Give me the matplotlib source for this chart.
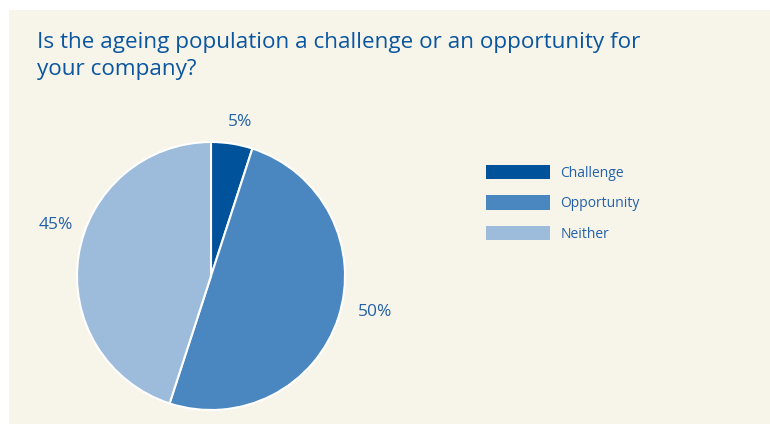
import numpy as np
import matplotlib
matplotlib.use("Agg")
import matplotlib.pyplot as plt
from matplotlib.patches import Rectangle

categories = ["Challenge", "Opportunity", "Neither"]
shares = [5, 50, 45]
colors = ["#00529b", "#4a86bf", "#9dbcdb"]
title = "Is the ageing population a challenge or an opportunity for\nyour company?"

plt.rcParams["font.family"] = ["Open Sans", "DejaVu Sans"]
text_col = "#2361a8"

fig = plt.figure(figsize=(7.7, 4.24), dpi=100)
fig.patch.set_facecolor("white")
fig.patches.append(Rectangle((9 / 770, 0), 1, (424 - 10) / 424,
                             transform=fig.transFigure, facecolor="#f7f4ea",
                             edgecolor="none", zorder=-1))

fig.text(37 / 770, 1 - 32 / 424, title, ha="left", va="top",
         fontsize=16.2, color="#0a56a0", linespacing=1.4)

ax = fig.add_axes([77 / 770, 14 / 424, 268 / 770, 268 / 424])
wedges, texts = ax.pie(shares, colors=colors, startangle=90, counterclock=False,
                       labels=[f"{v}%" for v in shares], labeldistance=1.13,
                       wedgeprops=dict(edgecolor="white", linewidth=1.5),
                       textprops=dict(color=text_col, fontsize=12.5))

# nudge percent labels around the rim like the original layout
label_r = [1.156, 1.13, 1.10]
label_tweak = [2.7, 4.2, -11.3]
for w, t, r, dt in zip(wedges, texts, label_r, label_tweak):
    a = np.deg2rad((w.theta1 + w.theta2) / 2 + dt)
    t.set_position((r * np.cos(a), r * np.sin(a)))
    t.set_va("center")

ax.set_xlim(-1, 1)
ax.set_ylim(-1, 1)
ax.set_aspect("equal")
ax.axis("off")

leg = fig.legend(wedges, categories, loc="upper left",
                 bbox_to_anchor=(486 / 770, 1 - 165 / 424), frameon=False,
                 borderpad=0, borderaxespad=0, handlelength=4.6, handleheight=1.22,
                 labelspacing=1.05, handletextpad=0.75, fontsize=10)
for t in leg.get_texts():
    t.set_color(text_col)
for h in leg.legend_handles:
    h.set_edgecolor("none")

fig.savefig("out.png", dpi=100, facecolor=fig.get_facecolor())
